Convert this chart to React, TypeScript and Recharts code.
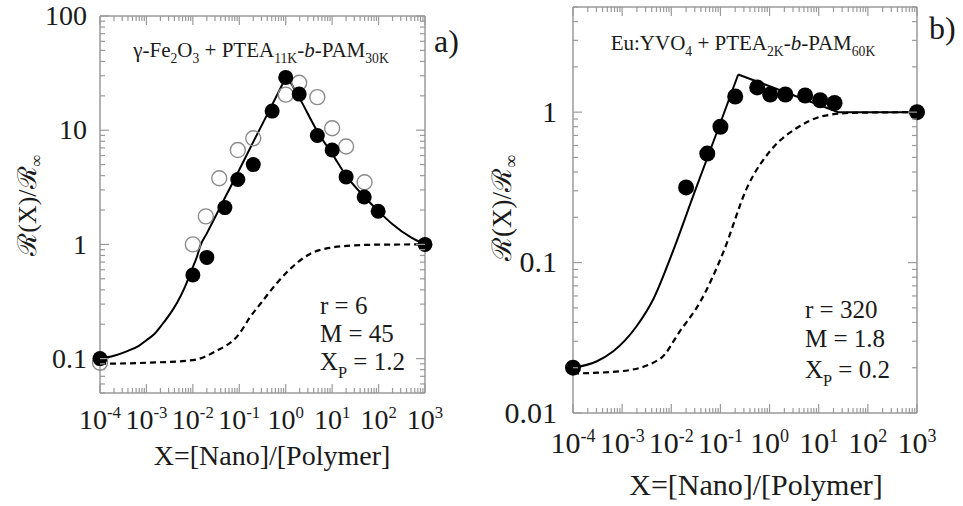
import React from 'react';
import { ComposedChart, Line, Scatter, XAxis, YAxis } from 'recharts';

// ---------- Panel a data ----------
const aFilled = [
  { x: 1e-4, y: 0.1 }, { x: 0.01, y: 0.54 }, { x: 0.02, y: 0.77 }, { x: 0.049, y: 2.1 },
  { x: 0.093, y: 3.7 }, { x: 0.2, y: 5.0 }, { x: 0.51, y: 14.7 }, { x: 1.0, y: 29 },
  { x: 1.95, y: 20.7 }, { x: 4.8, y: 9.0 }, { x: 10, y: 6.7 }, { x: 20, y: 3.9 },
  { x: 49, y: 2.6 }, { x: 98, y: 1.95 }, { x: 1000, y: 1.0 },
];
const aOpen = [
  { x: 1e-4, y: 0.092 }, { x: 0.01, y: 1.0 }, { x: 0.019, y: 1.76 }, { x: 0.037, y: 3.8 },
  { x: 0.093, y: 6.7 }, { x: 0.2, y: 8.5 }, { x: 1.0, y: 20.5 }, { x: 1.95, y: 26 },
  { x: 4.8, y: 19.5 }, { x: 10, y: 10.4 }, { x: 20, y: 7.2 }, { x: 50, y: 3.5 },
];
const aFitRise = [
  { x: 1e-4, y: 0.1 }, { x: 2e-4, y: 0.106 }, { x: 4e-4, y: 0.117 }, { x: 7e-4, y: 0.13 },
  { x: 1e-3, y: 0.145 }, { x: 1.5e-3, y: 0.165 }, { x: 2.2e-3, y: 0.2 }, { x: 3.2e-3, y: 0.245 },
  { x: 4.6e-3, y: 0.31 }, { x: 6.5e-3, y: 0.41 }, { x: 9e-3, y: 0.57 }, { x: 0.0125, y: 0.8 },
  { x: 0.0143, y: 0.96 }, { x: 0.02, y: 1.25 }, { x: 0.05, y: 2.6 }, { x: 0.1, y: 4.5 },
  { x: 0.2, y: 7.9 }, { x: 0.5, y: 16.4 }, { x: 1.05, y: 30 },
];
const aFitFall = [
  { x: 1.05, y: 30 }, { x: 2, y: 19 }, { x: 5, y: 9.5 }, { x: 10, y: 6.2 }, { x: 20, y: 4.0 },
  { x: 50, y: 2.6 }, { x: 100, y: 1.95 }, { x: 200, y: 1.5 }, { x: 500, y: 1.15 }, { x: 1000, y: 1.0 },
];
const aDashed = [
  { x: 1e-4, y: 0.09 }, { x: 1e-3, y: 0.092 }, { x: 0.01, y: 0.097 }, { x: 0.03, y: 0.115 },
  { x: 0.1, y: 0.165 }, { x: 0.17, y: 0.23 }, { x: 0.3, y: 0.31 }, { x: 0.65, y: 0.46 },
  { x: 1.2, y: 0.6 }, { x: 3.4, y: 0.83 }, { x: 10, y: 0.94 }, { x: 30, y: 0.98 },
  { x: 100, y: 0.995 }, { x: 1000, y: 1.0 },
];

// ---------- Panel b data ----------
const bFilled = [
  { x: 1e-4, y: 0.02 }, { x: 0.02, y: 0.316 }, { x: 0.054, y: 0.53 }, { x: 0.1, y: 0.8 },
  { x: 0.2, y: 1.27 }, { x: 0.56, y: 1.46 }, { x: 1.03, y: 1.31 }, { x: 2.1, y: 1.31 },
  { x: 5.3, y: 1.29 }, { x: 10.7, y: 1.2 }, { x: 21, y: 1.15 }, { x: 1000, y: 1.0 },
];
const bFitRise = [
  { x: 1e-4, y: 0.02 }, { x: 3e-4, y: 0.022 }, { x: 6.5e-4, y: 0.0256 }, { x: 2e-3, y: 0.038 },
  { x: 4.3e-3, y: 0.057 }, { x: 0.0105, y: 0.116 }, { x: 0.03, y: 0.296 }, { x: 0.1, y: 0.85 },
  { x: 0.23, y: 1.78 },
];
const bFitPlateau = [{ x: 0.23, y: 1.78 }, { x: 25, y: 1.0 }, { x: 1000, y: 1.0 }];
const bDashed = [
  { x: 1e-4, y: 0.0183 }, { x: 1e-3, y: 0.019 }, { x: 6e-3, y: 0.023 }, { x: 0.015, y: 0.035 },
  { x: 0.039, y: 0.055 }, { x: 0.113, y: 0.116 }, { x: 0.35, y: 0.316 }, { x: 1.17, y: 0.58 },
  { x: 3.6, y: 0.785 }, { x: 12, y: 0.94 }, { x: 50, y: 0.99 }, { x: 1000, y: 1.0 },
];

// ---------- axes ----------
const xDomain = [1e-4, 1e3];
const aYDomain = [0.05, 100];
const bYDomain = [0.01, 5];
const minorMultipliers = [1, 2, 3, 4, 5, 6, 7, 8, 9];

function logTicks(min: number, max: number) {
  const out: number[] = [];
  for (let e = Math.floor(Math.log10(min)); e <= Math.ceil(Math.log10(max)); e++) {
    for (const m of minorMultipliers) {
      const v = m * Math.pow(10, e);
      if (v >= min * 0.999 && v <= max * 1.001) out.push(v);
    }
  }
  return out;
}
const xTicks = logTicks(xDomain[0], xDomain[1]);
const aYTicks = logTicks(aYDomain[0], aYDomain[1]);
const bYTicks = logTicks(bYDomain[0], bYDomain[1]);

const GRAY = '#9a9a9a';
const INK = '#1a1a1a';
const SERIF = '"Liberation Serif", "Times New Roman", "DejaVu Serif", serif';

function isMajor(v: number) {
  const l = Math.log10(v);
  return Math.abs(l - Math.round(l)) < 1e-6;
}
function fmtY(v: number) {
  if (v >= 1) return String(Math.round(v));
  const e = Math.round(-Math.log10(v));
  return v.toFixed(e);
}

function makeTick(side: string, fs: number, off: number) {
  return (props: any) => {
    const x = Number(props.x);
    const y = Number(props.y);
    const v = Number(props.payload.value);
    const maj = isMajor(v);
    const len = maj ? 9 : 5;
    let x2 = x, y2 = y;
    if (side === 'bottom') y2 = y - len;
    if (side === 'top') y2 = y + len;
    if (side === 'left') x2 = x + len;
    if (side === 'right') x2 = x - len;
    const d = `M${x},${y}L${x2},${y2}`;
    let label = null;
    if (maj && side === 'bottom') {
      const ex = Math.round(Math.log10(v));
      label = (
        <text x={x} y={y + off} textAnchor="middle" fontSize={fs} fontFamily={SERIF} fill={INK}>
          10<tspan dy={-fs * 0.38} fontSize={fs * 0.6}>{String(ex)}</tspan>
        </text>
      );
    }
    if (maj && side === 'left') {
      label = (
        <text x={x - off} y={y + fs * 0.33} textAnchor="end" fontSize={fs} fontFamily={SERIF} fill={INK}>
          {fmtY(v)}
        </text>
      );
    }
    return (
      <g>
        <path d={d} stroke={GRAY} strokeWidth={1.2} fill="none" />
        {label}
      </g>
    );
  };
}

const filledDot = (r: number) => (p: any) => <circle cx={p.cx} cy={p.cy} r={r} fill="#000" />;
const openDot = (r: number) => (p: any) => (
  <circle cx={p.cx} cy={p.cy} r={r} fill="none" stroke="#8a8a8a" strokeWidth={1.4} />
);
const noDot = () => <g />;

type Seg = { t: string; sub?: boolean; it?: boolean };
function Rich({ x, y, fs, segs, anchor }: { x: number; y: number; fs: number; segs: Seg[]; anchor?: string }) {
  const shift = fs * 0.3;
  let cur = 0;
  return (
    <text x={x} y={y} fontSize={fs} fontFamily={SERIF} fill={INK} textAnchor={anchor || 'start'}>
      {segs.map((s, i) => {
        const target = s.sub ? shift : 0;
        const dy = target - cur;
        cur = target;
        return (
          <tspan key={i} dy={dy} fontSize={s.sub ? fs * 0.65 : fs} fontStyle={s.it ? 'italic' : 'normal'}>
            {s.t}
          </tspan>
        );
      })}
    </text>
  );
}

function Panel(props: {
  width: number; height: number; leftW: number; rightW: number; topH: number; bottomH: number;
  yDomain: number[]; yTicks: number[]; fs: number; xOff: number; yOff: number; mirrorData: any[]; children: any;
}) {
  const { width, height, leftW, rightW, topH, bottomH, yDomain, yTicks, fs, xOff, yOff, mirrorData } = props;
  const axisLine = { stroke: GRAY, strokeWidth: 1.5 };
  return (
    <ComposedChart width={width} height={height} margin={{ top: 0, right: 0, bottom: 0, left: 0 }}>
      <XAxis xAxisId="b" dataKey="x" type="number" scale="log" domain={xDomain} ticks={xTicks}
        interval={0} orientation="bottom" height={bottomH} axisLine={axisLine} tickLine={false}
        tickSize={0} tickMargin={0} tick={makeTick('bottom', fs, xOff)} />
      <XAxis xAxisId="t" dataKey="x" type="number" scale="log" domain={xDomain} ticks={xTicks}
        interval={0} orientation="top" height={topH} axisLine={axisLine} tickLine={false}
        tickSize={0} tickMargin={0} tick={makeTick('top', fs, 0)} />
      <YAxis yAxisId="l" type="number" scale="log" domain={yDomain} ticks={yTicks} interval={0}
        orientation="left" width={leftW} axisLine={axisLine} tickLine={false} tickSize={0}
        tickMargin={0} tick={makeTick('left', fs, yOff)} />
      <YAxis yAxisId="r" type="number" scale="log" domain={yDomain} ticks={yTicks} interval={0}
        orientation="right" width={rightW} axisLine={axisLine} tickLine={false} tickSize={0}
        tickMargin={0} tick={makeTick('right', fs, 0)} />
      <Scatter xAxisId="t" yAxisId="r" data={mirrorData} dataKey="y" isAnimationActive={false} shape={noDot} />
      {props.children}
    </ComposedChart>
  );
}

const lineCommon = { xAxisId: 'b', yAxisId: 'l', dataKey: 'y', dot: false, isAnimationActive: false, stroke: '#000' } as any;

export default function App() {
  return (
    <div style={{ position: 'absolute', left: 0, top: 0, width: 963, height: 506, background: '#fff', overflow: 'hidden' }}>
      <div style={{ position: 'absolute', left: 0, top: 0 }}>
        <Panel width={480} height={506} leftW={100} rightW={55} topH={16} bottomH={113}
          yDomain={aYDomain} yTicks={aYTicks} fs={28} xOff={36} yOff={13} mirrorData={aFilled}>
          <Line {...lineCommon} data={aDashed} type="monotone" strokeWidth={2.2} strokeDasharray="6 4" />
          <Line {...lineCommon} data={aFitRise} type="monotone" strokeWidth={2} />
          <Line {...lineCommon} data={aFitFall} type="monotone" strokeWidth={2} />
          <Scatter xAxisId="b" yAxisId="l" data={aOpen} dataKey="y" isAnimationActive={false} shape={openDot(7.5)} />
          <Scatter xAxisId="b" yAxisId="l" data={aFilled} dataKey="y" isAnimationActive={false} shape={filledDot(7.5)} />
        </Panel>
      </div>
      <div style={{ position: 'absolute', left: 480, top: 0 }}>
        <Panel width={483} height={506} leftW={93} rightW={46} topH={7} bottomH={93}
          yDomain={bYDomain} yTicks={bYTicks} fs={30} xOff={40} yOff={16} mirrorData={bFilled}>
          <Line {...lineCommon} data={bDashed} type="monotone" strokeWidth={2.2} strokeDasharray="6 4" />
          <Line {...lineCommon} data={bFitRise} type="monotone" strokeWidth={2} />
          <Line {...lineCommon} data={bFitPlateau} type="linear" strokeWidth={2} />
          <Scatter xAxisId="b" yAxisId="l" data={bFilled} dataKey="y" isAnimationActive={false} shape={filledDot(8)} />
        </Panel>
      </div>
      <svg width={963} height={506} style={{ position: 'absolute', left: 0, top: 0, pointerEvents: 'none' }}>
        {/* panel a */}
        <Rich x={261} y={57} fs={21} anchor="middle" segs={[
          { t: 'γ-Fe' }, { t: '2', sub: true }, { t: 'O' }, { t: '3', sub: true }, { t: ' + PTEA' },
          { t: '11K', sub: true }, { t: '-' }, { t: 'b', it: true }, { t: '-PAM' }, { t: '30K', sub: true },
        ]} />
        <text x={434} y={52} fontSize={32} fontFamily={SERIF} fill={INK}>a)</text>
        <text x={36} y={205} fontSize={26} fontFamily={SERIF} fill={INK} textAnchor="middle" transform="rotate(-90 36 205)">
          ℛ(X)/ℛ<tspan dy={6} fontSize={17}>∞</tspan>
        </text>
        <text x={272} y={465} fontSize={28} fontFamily={SERIF} fill={INK} textAnchor="middle">X=[Nano]/[Polymer]</text>
        <Rich x={320} y={314} fs={25} segs={[{ t: 'r = 6' }]} />
        <Rich x={320} y={342} fs={25} segs={[{ t: 'M = 45' }]} />
        <Rich x={320} y={370} fs={25} segs={[{ t: 'X' }, { t: 'P', sub: true }, { t: ' = 1.2' }]} />
        {/* panel b */}
        <Rich x={743} y={50} fs={21} anchor="middle" segs={[
          { t: 'Eu:YVO' }, { t: '4', sub: true }, { t: ' + PTEA' }, { t: '2K', sub: true }, { t: '-' },
          { t: 'b', it: true }, { t: '-PAM' }, { t: '60K', sub: true },
        ]} />
        <text x={929} y={39} fontSize={32} fontFamily={SERIF} fill={INK}>b)</text>
        <text x={511} y={208} fontSize={27} fontFamily={SERIF} fill={INK} textAnchor="middle" transform="rotate(-90 511 208)">
          ℛ(X)/ℛ<tspan dy={6} fontSize={18}>∞</tspan>
        </text>
        <text x={756} y={495} fontSize={30} fontFamily={SERIF} fill={INK} textAnchor="middle">X=[Nano]/[Polymer]</text>
        <Rich x={805} y={318} fs={25} segs={[{ t: 'r = 320' }]} />
        <Rich x={805} y={347} fs={25} segs={[{ t: 'M = 1.8' }]} />
        <Rich x={805} y={378} fs={25} segs={[{ t: 'X' }, { t: 'P', sub: true }, { t: ' = 0.2' }]} />
      </svg>
    </div>
  );
}
